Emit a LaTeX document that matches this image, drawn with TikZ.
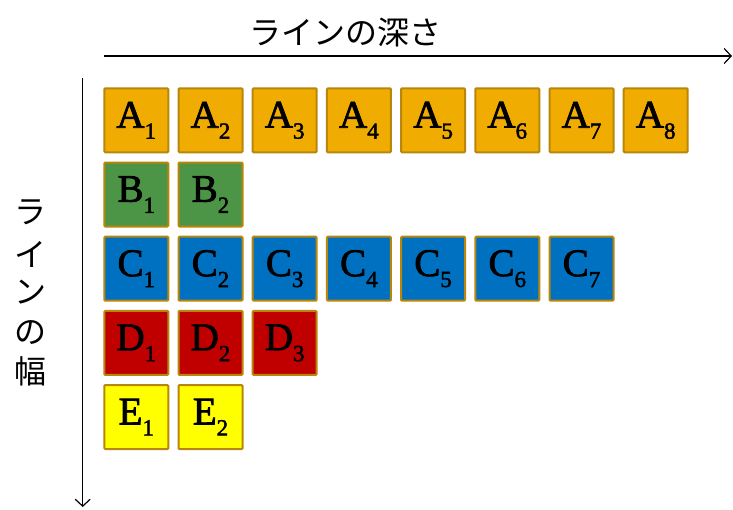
\documentclass[tikz,border=0pt]{standalone}
\usepackage{fontspec}
\setmainfont{Liberation Serif}
\newfontfamily\cellfont[FakeBold=2]{Liberation Serif}
\newfontfamily\jpfont{Noto Sans CJK JP}
\usetikzlibrary{arrows.meta}
\definecolor{cA}{HTML}{F0AC00}
\definecolor{cB}{HTML}{4C9446}
\definecolor{cC}{HTML}{0070C0}
\definecolor{cD}{HTML}{C00000}
\definecolor{cE}{HTML}{FFFF00}
\definecolor{edgegold}{HTML}{B8860B}
\newcommand{\cell}[2]{{\cellfont\fontsize{39}{39}\selectfont #1}\raisebox{-11pt}{\cellfont\fontsize{23}{23}\selectfont #2}}
\tikzset{
  cellbox/.style={draw=edgegold, line width=2pt, fill=#1, minimum width=64pt, minimum height=64pt, inner sep=0pt, rounded corners=1pt},
  axis/.style={line width=1.2pt, -{Straight Barb[length=7pt,width=15pt,line width=1.2pt]}},
  jp/.style={font=\jpfont\fontsize{32}{32}\selectfont, inner sep=0pt}
}
\begin{document}
\begin{tikzpicture}[x=1pt,y=-1pt]
\useasboundingbox (0,0) rectangle (733,509);
% axes
\coordinate (hs) at (104,56);
\coordinate (he) at (732,56);
\coordinate (vs) at (82.7,78);
\coordinate (ve) at (82.7,507);
\draw[axis] (hs) -- (he);
\draw[axis] (vs) -- (ve);
\node[jp] (title) at (345,33) {ラインの深さ};
\node[jp] (v1) at (30,212) {ラ};
\node[jp] (v2) at (30,254) {イ};
\node[jp] (v3) at (30,292) {ン};
\node[jp] (v4) at (30,333) {の};
\node[jp] (v5) at (30,371) {幅};
% rows
\foreach \i in {1,...,8} {
  \node[cellbox=cA] (A\i) at ({136.3+74.2*(\i-1)},120.3) {\cell{A}{\i}};
}
\foreach \i in {1,2} {
  \node[cellbox=cB] (B\i) at ({136.3+74.2*(\i-1)},194.5) {\cell{B}{\i}};
}
\foreach \i in {1,...,7} {
  \node[cellbox=cC] (C\i) at ({136.3+74.2*(\i-1)},268.7) {\cell{C}{\i}};
}
\foreach \i in {1,2,3} {
  \node[cellbox=cD] (D\i) at ({136.3+74.2*(\i-1)},342.9) {\cell{D}{\i}};
}
\foreach \i in {1,2} {
  \node[cellbox=cE] (E\i) at ({136.3+74.2*(\i-1)},417.1) {\cell{E}{\i}};
}
\end{tikzpicture}
\end{document}
